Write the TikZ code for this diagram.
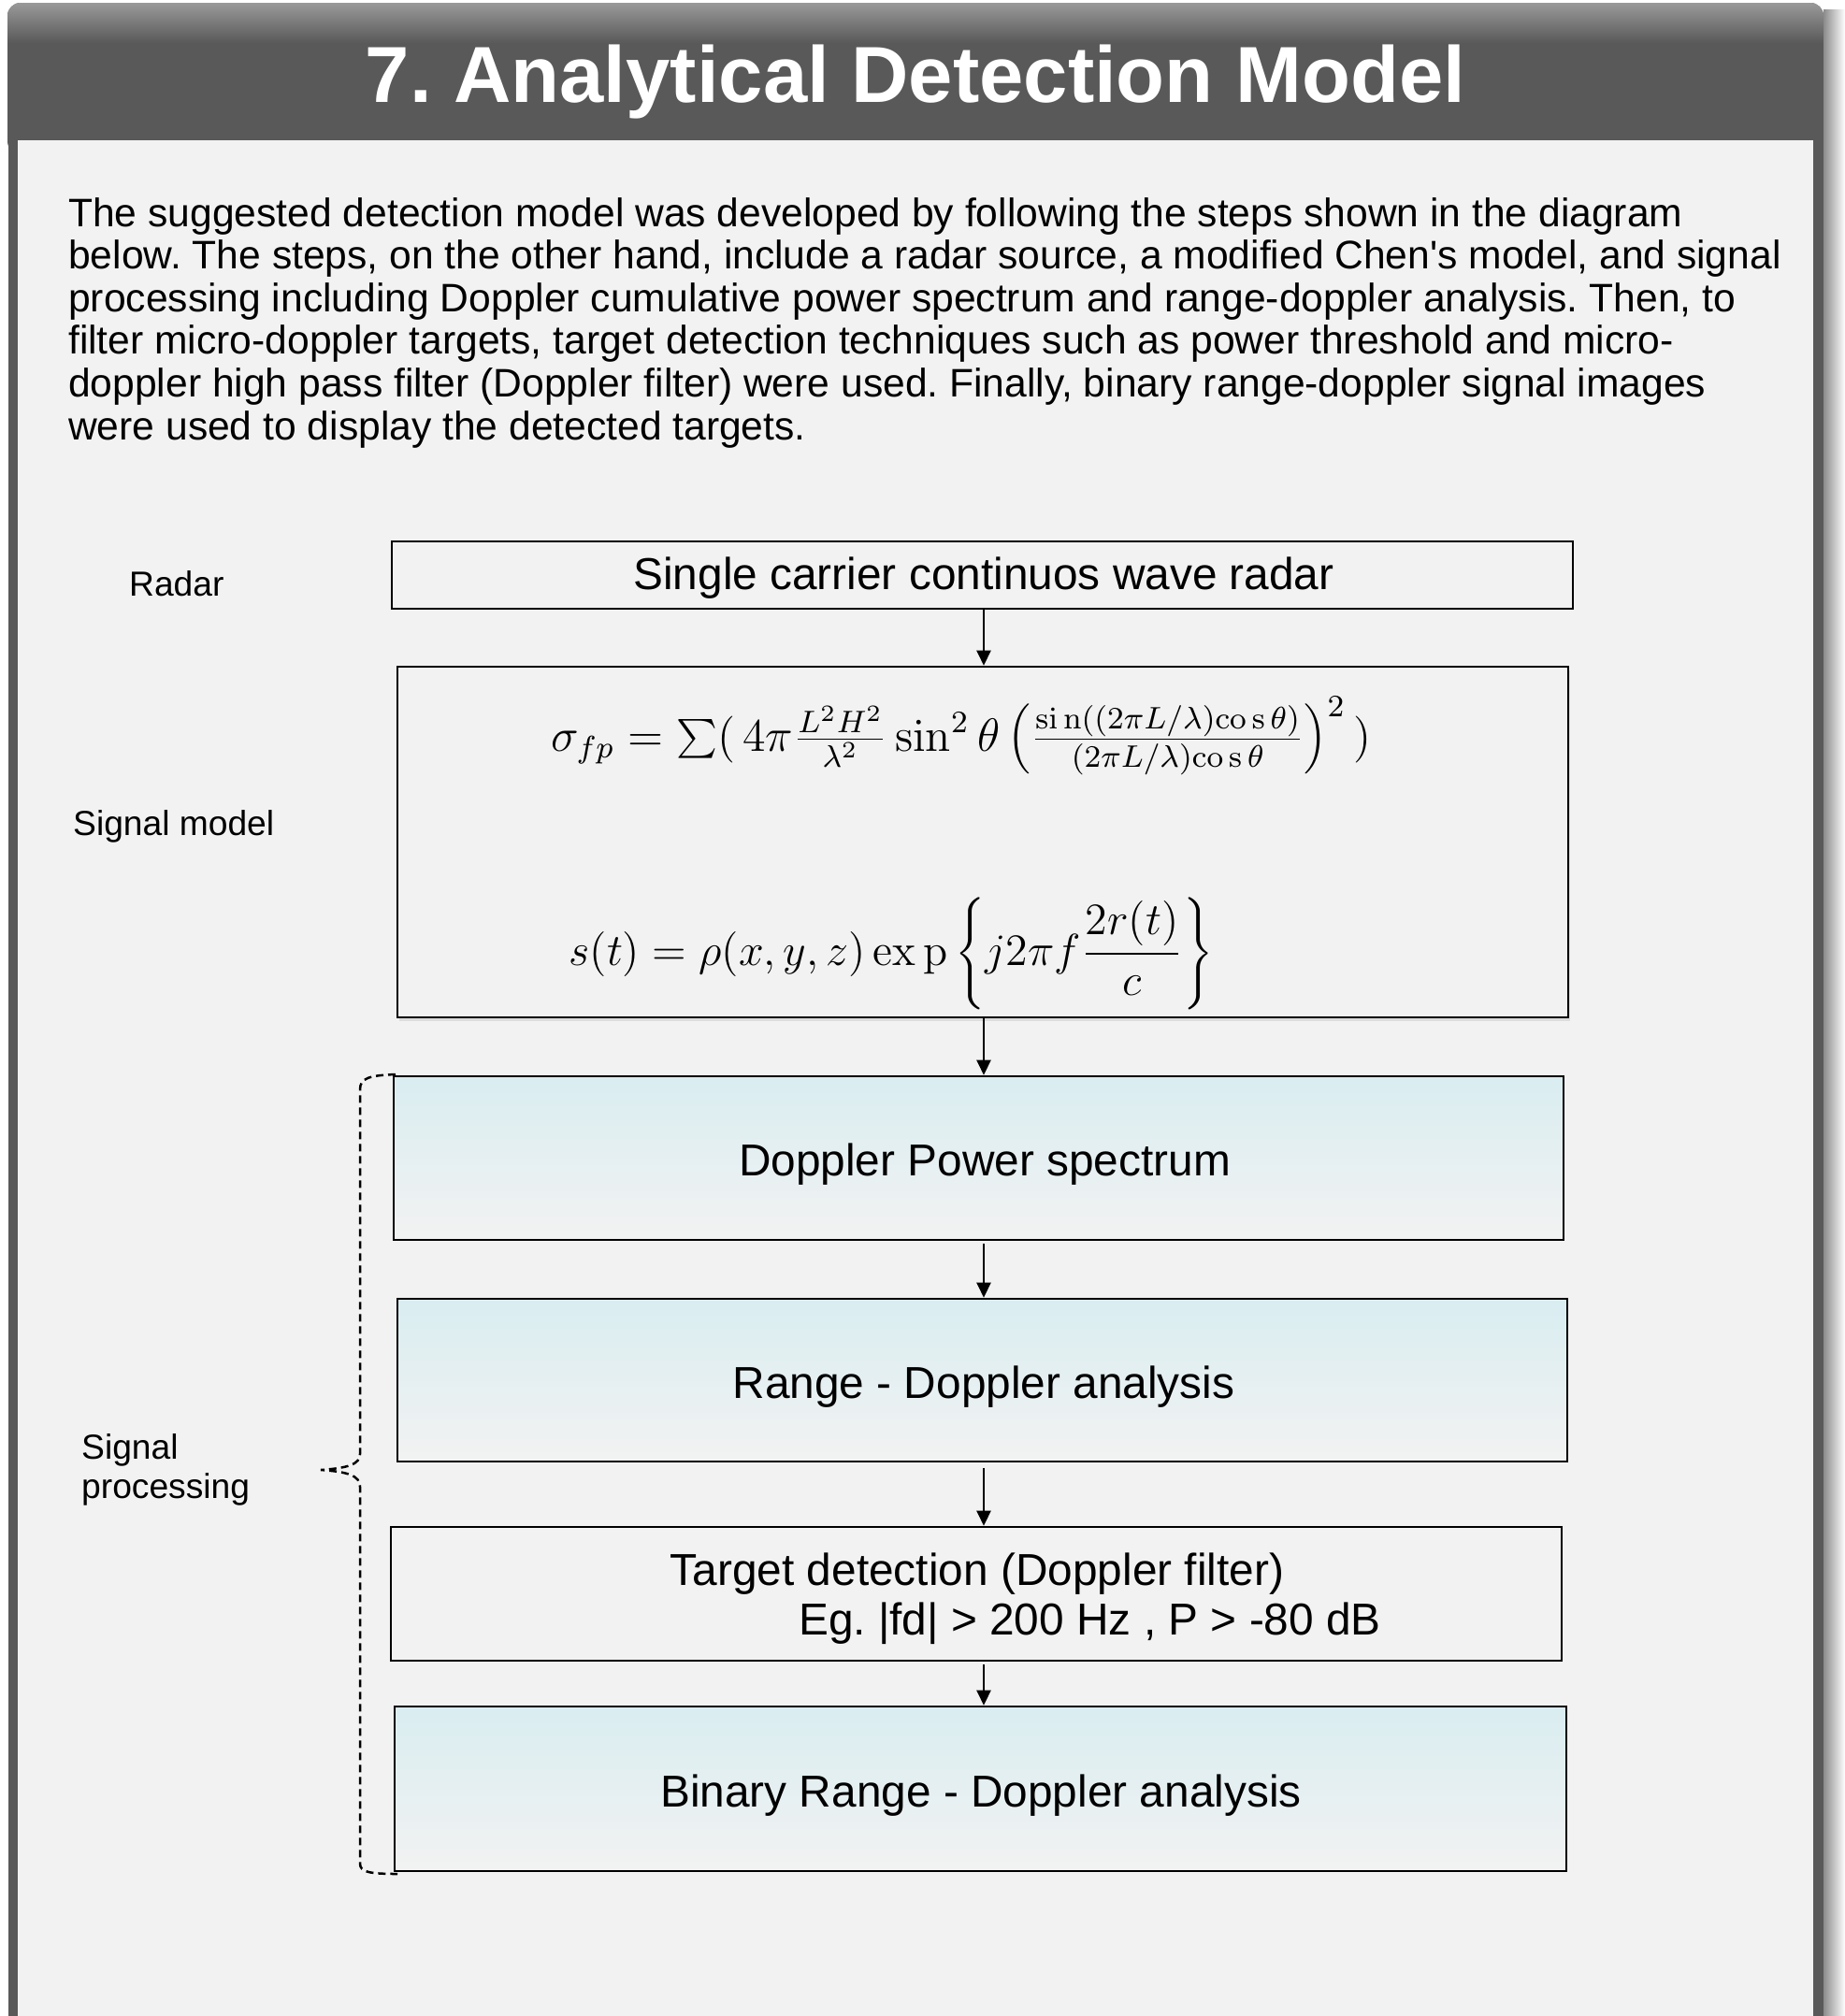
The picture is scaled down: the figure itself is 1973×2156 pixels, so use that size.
\documentclass[tikz,border=0pt]{standalone}
\usepackage[no-math]{fontspec}
\setmainfont{Liberation Sans}[Ligatures=TeXOff]
\usetikzlibrary{arrows.meta,shadows}
\definecolor{framegray}{HTML}{595959}
\definecolor{bggray}{HTML}{F2F2F2}
\definecolor{cyanlt}{HTML}{D9EDF1}
\frenchspacing
\tikzset{
  boxplain/.style={draw=black, line width=2.6pt, fill=bggray, inner sep=0pt},
  boxshade/.style={draw=black, line width=2.6pt, top color=cyanlt, bottom color=bggray, inner sep=0pt},
  flowarrow/.style={line width=2.4pt, -{Triangle[width=15pt,length=16pt]}},
  bodytext/.style={anchor=base west, inner sep=0pt, font=\fontsize{42.6}{46}\selectfont},
  sidelabel/.style={anchor=base west, inner sep=0pt, font=\fontsize{37.2}{42}\selectfont},
  boxtext/.style={anchor=base, inner sep=0pt, font=\fontsize{47.8}{56}\selectfont},
  mathtext/.style={anchor=base, inner sep=0pt, font=\fontsize{12}{14}\selectfont},
  bracket/.style={line width=2.5pt, dash pattern=on 8pt off 5pt}
}
\begin{document}
\begin{tikzpicture}[x=1pt,y=-1pt]
\useasboundingbox (0,0) rectangle (1973,2156);
\fill[white] (0,0) rectangle (1973,2156);
% outer shadow on the right
\shade[left color=black!45, right color=white] (1950,10) rectangle (1973,2156);
% frame body
\fill[framegray] (9,140) rectangle (1950,2156);
\fill[bggray] (19,150) rectangle (1939,2156);
% title bar
\begin{scope}
  \clip[rounded corners=14pt] (8,3) rectangle (1950,165);
  \fill[framegray] (8,3) rectangle (1950,165);
  \shade[top color=black!40, bottom color=framegray] (8,3) rectangle (1950,46);
\end{scope}
\fill[bggray] (19,150) rectangle (1939,165);
\node[anchor=base, inner sep=0pt, text=white, font=\fontsize{85}{100}\selectfont\bfseries] (title) at (979,109) {7. Analytical Detection Model};

% paragraph
\node[bodytext] (p1) at (73,242) {The suggested detection model was developed by following the steps shown in the diagram};
\node[bodytext] (p2) at (73,287.6) {below. The steps, on the other hand, include a radar source, a modified Chen's model, and signal};
\node[bodytext] (p3) at (73,333.2) {processing including Doppler cumulative power spectrum and range-doppler analysis. Then, to};
\node[bodytext] (p4) at (73,378.8) {filter micro-doppler targets, target detection techniques such as power threshold and micro-};
\node[bodytext] (p5) at (73,424.4) {doppler high pass filter (Doppler filter) were used. Finally, binary range-doppler signal images};
\node[bodytext] (p6) at (73,470) {were used to display the detected targets.};

% side labels
\node[sidelabel] (lradar) at (138,637) {Radar};
\node[sidelabel] (lsignal) at (78,893) {Signal model};
\node[sidelabel] (lproc1) at (87,1560) {Signal};
\node[sidelabel] (lproc2) at (87,1602) {processing};

% boxes
\node[boxplain, minimum width=1263pt, minimum height=72pt] (b1) at (1050.5,615) {};
\node[boxplain, minimum width=1252pt, minimum height=375pt, drop shadow={opacity=0.18, shadow xshift=2pt, shadow yshift=-4pt}] (b2) at (1051,900.5) {};
\node[boxshade, minimum width=1251pt, minimum height=175pt] (b3) at (1046.5,1238.5) {};
\node[boxshade, minimum width=1251pt, minimum height=174pt] (b4) at (1050.5,1476) {};
\node[boxplain, minimum width=1252pt, minimum height=143pt] (b5) at (1044,1704.5) {};
\node[boxshade, minimum width=1253pt, minimum height=176pt] (b6) at (1048.5,1913) {};

% box texts
\node[boxtext] (t1) at (1052,630) {Single carrier continuos wave radar};
\node[boxtext] (t3) at (1053,1257) {Doppler Power spectrum};
\node[boxtext] (t4) at (1052,1495) {Range - Doppler analysis};
\node[boxtext] (t5a) at (1045,1695) {Target detection (Doppler filter)};
\node[boxtext, anchor=base west] (t5b) at (854,1748) {Eg. |fd| > 200 Hz , P > -80 dB};
\node[boxtext] (t6) at (1049,1932) {Binary Range - Doppler analysis};

% formulas
\node[mathtext] (f1) at (1028,803) {\scalebox{4.16}{$\sigma_{fp} = \sum(\,4\pi\frac{L^2H^2}{\lambda^2}\sin^2\theta\,\Big(\frac{\mathrm{si\,n}((2\pi L/\lambda)\mathrm{co\,s}\,\theta)}{(2\pi L/\lambda)\mathrm{co\,s}\,\theta}\Big)^{2}\,)$}};
\node[mathtext] (f2) at (953,1032) {\scalebox{4}{$s(t) = \rho(x,y,z)\,\mathrm{ex\,p}\left\{ j2\pi f{\displaystyle\frac{2r(t)}{c}}\right\}$}};

% arrows
\coordinate (ax) at (1052,0);
\draw[flowarrow] (b1.south -| ax) -- (b2.north -| ax);
\draw[flowarrow] (b2.south -| ax) -- (b3.north -| ax);
\draw[flowarrow] ([yshift=-3pt]b3.south -| ax) -- (b4.north -| ax);
\draw[flowarrow] ([yshift=-6pt]b4.south -| ax) -- (b5.north -| ax);
\draw[flowarrow] ([yshift=-3pt]b5.south -| ax) -- (b6.north -| ax);

% dashed bracket
\draw[bracket] (423,1149) .. controls (395,1150) and (385,1153) .. (385,1165)
  -- (385,1555) .. controls (385,1566) and (372,1570) .. (343,1572)
  .. controls (372,1574) and (385,1578) .. (385,1590)
  -- (385,1993) .. controls (385,2002) and (395,2004) .. (425,2004);
\end{tikzpicture}
\end{document}
